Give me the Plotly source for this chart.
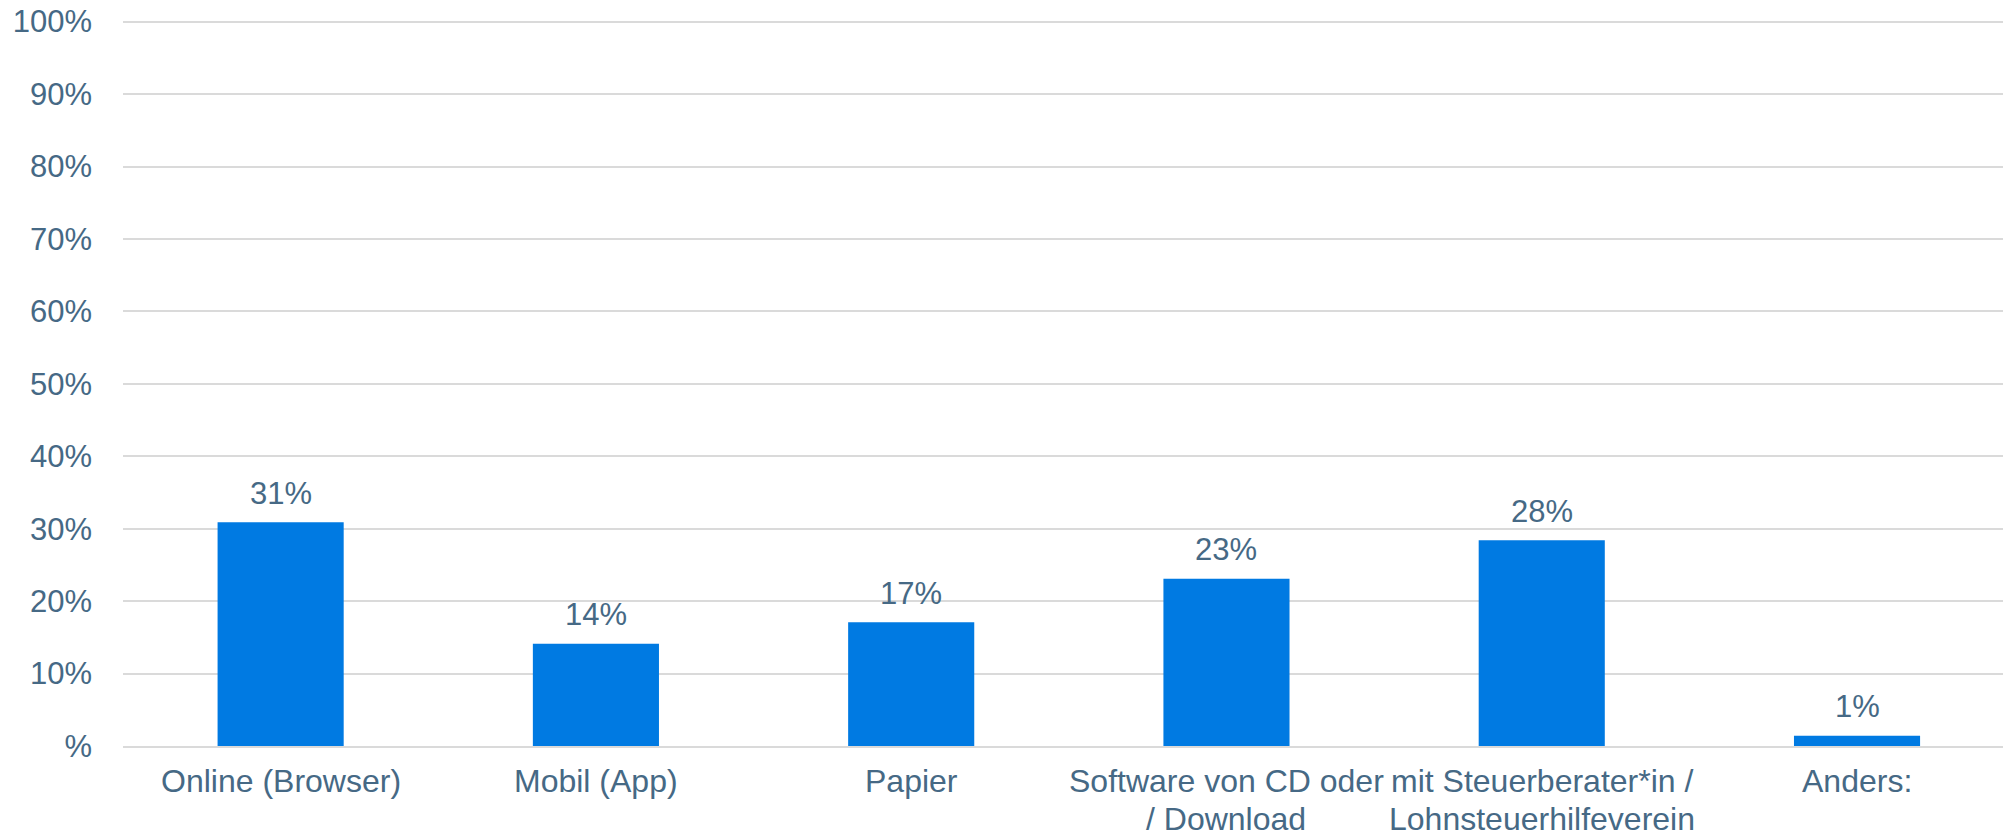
import plotly.graph_objects as go

categories = ["Online (Browser)", "Mobil (App)", "Papier",
              "Software von CD oder<br>/ Download",
              "mit Steuerberater*in /<br>Lohnsteuerhilfeverein",
              "Anders:"]
values = [30.9, 14.1, 17.1, 23.1, 28.4, 1.4]
value_labels = ["31%", "14%", "17%", "23%", "28%", "1%"]
tick_vals = [0, 10, 20, 30, 40, 50, 60, 70, 80, 90, 100]
tick_text = ["%", "10%", "20%", "30%", "40%", "50%", "60%", "70%", "80%", "90%", "100%"]

text_color = "#466985"
bar_color = "#007AE2"
grid_color = "#dadada"
font_family = "Arial, Liberation Sans, sans-serif"

fig = go.Figure(go.Bar(
    x=categories, y=values,
    marker=dict(color=bar_color, line=dict(width=0)),
    width=0.4, hoverinfo="skip",
))

for cat, val, lab in zip(categories, values, value_labels):
    fig.add_annotation(x=cat, y=val, text=lab, showarrow=False,
                       xref="x", yref="y", yanchor="middle", yshift=29,
                       font=dict(size=31, color=text_color, family=font_family))

# category labels, one annotation per line for tighter line spacing
for cat in categories:
    for i, line in enumerate(cat.split("<br>")):
        fig.add_annotation(x=cat, y=0, text=line, showarrow=False,
                           xref="x", yref="paper", yanchor="middle",
                           yshift=-35 - 38 * i,
                           font=dict(size=32, color=text_color, family=font_family))

fig.update_layout(
    width=2003, height=835,
    margin=dict(l=123, r=0, t=18, b=89, autoexpand=False),
    paper_bgcolor="white", plot_bgcolor="white",
    font=dict(family=font_family, size=31, color=text_color),
    showlegend=False,
)
fig.update_yaxes(range=[0, 100.5], tickvals=tick_vals, ticktext=tick_text,
                 showgrid=True, gridcolor=grid_color, gridwidth=2,
                 zeroline=False, showline=False, automargin=False,
                 ticklabelstandoff=30,
                 tickfont=dict(size=31, color=text_color))
fig.update_xaxes(range=[-0.5, 5.463], showgrid=False, showline=True,
                 linecolor=grid_color, linewidth=2, automargin=False,
                 showticklabels=False)

fig.write_html("out.html", config={"displayModeBar": False},
               post_script="document.body.style.margin='0';document.body.style.overflow='hidden';")
